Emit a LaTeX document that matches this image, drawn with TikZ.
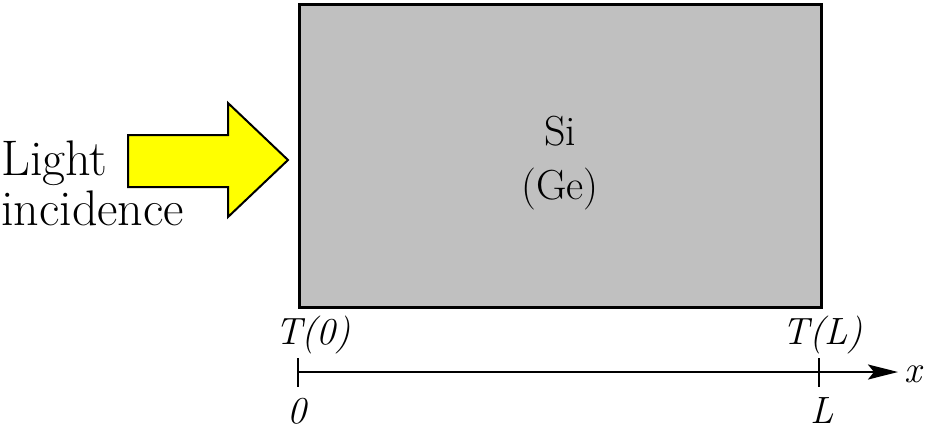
\documentclass[tikz,border=0pt]{standalone}
\usetikzlibrary{arrows.meta,calc}
\definecolor{slab}{HTML}{C0C0C0}
\definecolor{lightyellow}{HTML}{FFFF00}
\begin{document}
\begin{tikzpicture}[x=1pt,y=-1pt,
  lbl/.style={inner sep=0pt,font=\fontsize{38}{44}\selectfont\itshape},
  axisline/.style={line width=2.4pt},
  ticks/.style={line width=2.4pt}]
\useasboundingbox (0,0) rectangle (926,432);
% slab
\node[draw=black,line width=2.6pt,fill=slab,minimum width=522pt,minimum height=303pt,inner sep=0pt,anchor=north west] (slab) at (298,3) {};
\node[inner sep=0pt,align=center,font=\fontsize{42}{54}\selectfont] (mat) at (560,163) {Si\\(Ge)};
% light arrow
\draw[line width=2pt,fill=lightyellow] (128,135) -- (228,135) -- (228,103) -- (288,160) -- (228,217) -- (228,187) -- (128,187) -- cycle;
\node[inner sep=0pt,align=left,anchor=west,font=\fontsize{50}{50}\selectfont] (light) at (1,183) {Light\\incidence};
% axis
\coordinate (o) at (298,372);
\coordinate (lpt) at (819,372);
\coordinate (xend) at (898,372);
\draw[axisline,-{Stealth[length=30pt,width=15pt,inset=6pt]}] (o) -- (xend);
\draw[ticks] ($(o)+(0,-14)$) -- ($(o)+(0,15)$);
\draw[ticks] ($(lpt)+(0,-14)$) -- ($(lpt)+(0,15)$);
\node[lbl,anchor=west] (xl) at (904,374) {x};
\node[lbl] (t0) at (313,335) {T(0)};
\node[lbl] (tl) at (823,335) {T(L)};
\node[lbl] (z) at (297,411) {0};
\node[lbl] (ll) at (822,411) {L};
\end{tikzpicture}
\end{document}
